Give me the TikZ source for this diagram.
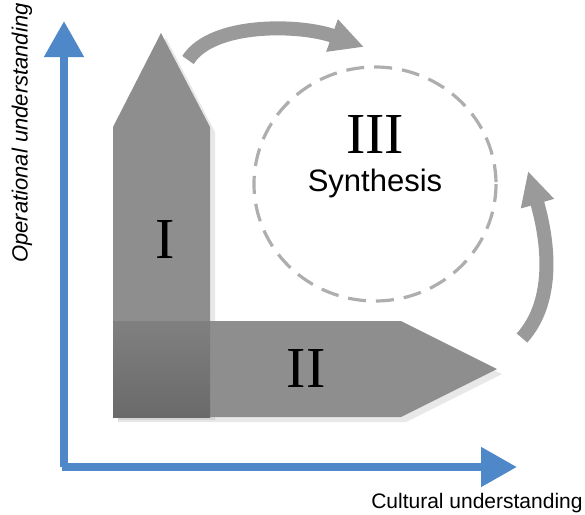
\documentclass[tikz,border=0pt]{standalone}
\usepackage{fontspec}
\setmainfont{Liberation Sans}
\newfontfamily\numfont{Liberation Serif}
\usepackage{tikz}
\usetikzlibrary{calc,shapes,backgrounds,arrows.meta,shadows,positioning}
\definecolor{axisblue}{HTML}{4F88C8}
\definecolor{blockgray}{HTML}{8E8E8E}
\definecolor{cornergray}{HTML}{6A6A6A}
\definecolor{loopgray}{HTML}{9A9A9A}
\tikzstyle{axis}=[draw=axisblue,line width=4pt,-{Triangle[length=18pt,width=19pt]}]
\tikzstyle{block}=[fill=blockgray,draw=none,drop shadow={opacity=0.18,shadow xshift=2.5pt,shadow yshift=-2.5pt}]
\tikzstyle{turn}=[draw=loopgray,line width=7pt,-{Triangle[length=17pt,width=16pt]}]
\tikzstyle{numeral}=[font=\numfont\fontsize{29}{29}\selectfont,text=black]
\tikzstyle{axislabel}=[font=\fontsize{10.5}{12}\selectfont]

\begin{document}
\begin{tikzpicture}[x=0.5pt,y=-0.5pt]
          \useasboundingbox (0,0) rectangle (585,515);

          % les axes
          \coordinate (O) at (64,467);
          \coordinate (ytip) at (64,21);
          \coordinate (xtip) at (517,467);
          \draw[axis] (O) -- (ytip);
          \draw[axis] ($(O)+(-2,0)$) -- (xtip);
          \node[axislabel,font=\itshape\fontsize{11}{12}\selectfont,rotate=90] (oplabel) at (22,133) {Operational understanding};
          \node[axislabel,anchor=north east,inner sep=0pt] (cultlabel) at (583,493) {Cultural understanding};

          % premier bloc
          \path[block] (113,415) -- (113,127) -- (161,33) -- (210,127) -- (210,415) -- cycle;
          % deuxieme bloc
          \path[block] (113,321) -- (401,321) -- (497,369) -- (401,417) -- (113,417) -- cycle;
          \shade[top color=blockgray!90!black,bottom color=cornergray] (113,321) rectangle (210,417);

          \node[numeral] (one) at (165,240) {I};
          \node[numeral] (two) at (306,369) {II};

          % synthese
          \draw[loopgray!80,dashed,line width=1.6pt,dash pattern=on 9pt off 5pt] (375,184) ellipse [x radius=121,y radius=117];
          \node[numeral] (three) at (375,135) {III};
          \node[font=\fontsize{15.5}{18}\selectfont] (synth) at (375,183) {Synthesis};

          % fleches courbes
          \coordinate (a1) at (188,60);
          \coordinate (a2) at (364,47);
          \coordinate (b1) at (522,338);
          \coordinate (b2) at (528,171);
          \draw[turn] (a1) .. controls (212,22) and (300,24) .. (a2);
          \draw[turn] (b1) .. controls (556,300) and (548,240) .. (b2);
        \end{tikzpicture}
\end{document}
